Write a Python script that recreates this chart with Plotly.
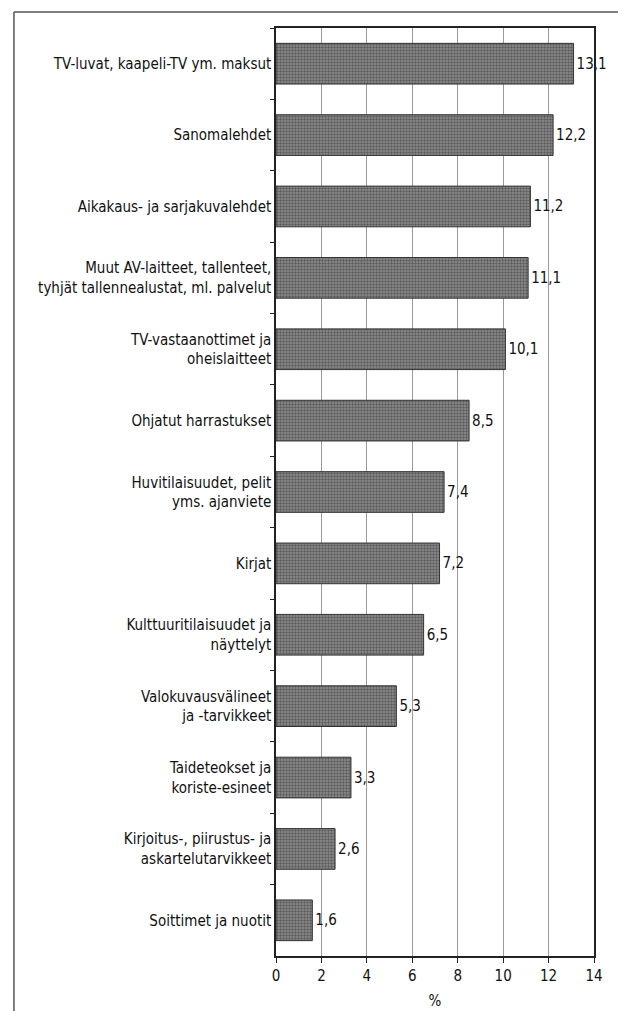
import plotly.graph_objects as go

categories = [
    "TV-luvat, kaapeli-TV ym. maksut",
    "Sanomalehdet",
    "Aikakaus- ja sarjakuvalehdet",
    "Muut AV-laitteet, tallenteet,<br>tyhjät tallennealustat, ml. palvelut",
    "TV-vastaanottimet ja<br>oheislaitteet",
    "Ohjatut harrastukset",
    "Huvitilaisuudet, pelit<br>yms. ajanviete",
    "Kirjat",
    "Kulttuuritilaisuudet ja<br>näyttelyt",
    "Valokuvausvälineet<br>ja -tarvikkeet",
    "Taideteokset ja<br>koriste-esineet",
    "Kirjoitus-, piirustus- ja<br>askartelutarvikkeet",
    "Soittimet ja nuotit",
]
values = [13.1, 12.2, 11.2, 11.1, 10.1, 8.5, 7.4, 7.2, 6.5, 5.3, 3.3, 2.6, 1.6]
x_ticks = [0, 2, 4, 6, 8, 10, 12, 14]

FONT = "Liberation Sans Narrow, DejaVu Sans Condensed, Arial Narrow, sans-serif"

fig = go.Figure(
    go.Bar(
        x=values,
        y=categories,
        orientation="h",
        width=0.57,
        marker=dict(
            color="#6e6e6e",
            line=dict(color="#333333", width=1),
            pattern=dict(shape=".", fgcolor="#2a2a2a", bgcolor="#8e8e8e", size=3, solidity=0.5),
        ),
        texttemplate="%{x:.1f}",
        textposition="outside",
        textfont=dict(family=FONT, size=15, color="#111111"),
        cliponaxis=False,
    )
)

fig.update_layout(
    width=626,
    height=1011,
    margin=dict(l=268, r=40, t=20, b=59),
    paper_bgcolor="white",
    plot_bgcolor="white",
    separators=", ",
    showlegend=False,
    font=dict(family=FONT, size=15, color="#111111"),
    bargap=0.43,
)

fig.update_xaxes(
    range=[0, 14],
    tickvals=x_ticks,
    ticks="outside",
    ticklen=5,
    tickcolor="#222222",
    showline=True,
    linecolor="#222222",
    linewidth=1.5,
    mirror=True,
    showgrid=True,
    gridcolor="#9a9a9a",
    gridwidth=1,
    zeroline=False,
    title=dict(text="%", standoff=12, font=dict(family=FONT, size=15)),
    tickfont=dict(family=FONT, size=15),
)

fig.update_yaxes(
    autorange="reversed",
    ticks="outside",
    tickson="boundaries",
    ticklen=4,
    tickcolor="#222222",
    showline=True,
    linecolor="#222222",
    linewidth=1.5,
    mirror=True,
    showgrid=False,
    tickfont=dict(family=FONT, size=15),
)

# scanned page frame (left and top edges)
fig.add_shape(type="line", xref="paper", yref="paper",
              x0=-0.824, x1=1.13, y0=1.0172, y1=1.0172,
              line=dict(color="#555555", width=1.5))
fig.add_shape(type="line", xref="paper", yref="paper",
              x0=-0.824, x1=-0.824, y0=1.0172, y1=-0.07,
              line=dict(color="#555555", width=1.5))

fig.write_html("out.html")
